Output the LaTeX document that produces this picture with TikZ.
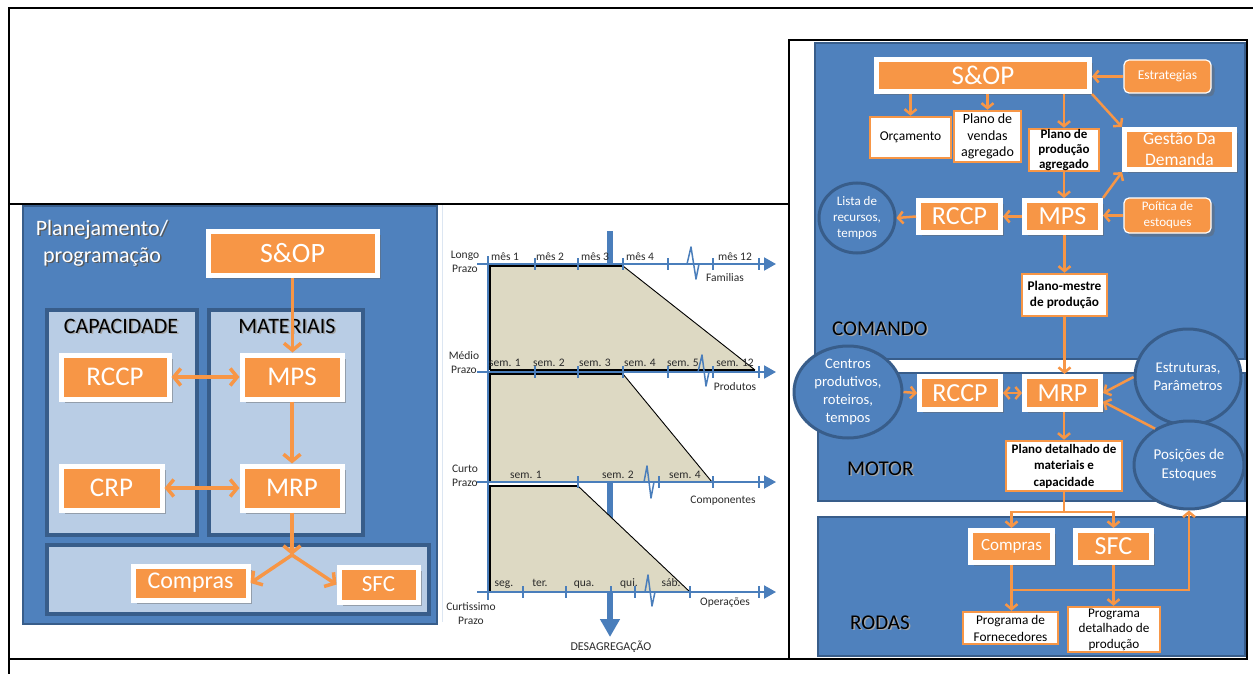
\documentclass[tikz,border=0pt]{standalone}
\usepackage{fontspec}
\setmainfont{Carlito}
\usetikzlibrary{arrows.meta,fit,shadows,shapes.geometric}
\definecolor{pblue}{HTML}{4F81BD}
\definecolor{pdark}{HTML}{385D8A}
\definecolor{plight}{HTML}{B9CDE5}
\definecolor{pfaint}{HTML}{DCE6F2}
\definecolor{porange}{HTML}{F79646}
\definecolor{ptan}{HTML}{DDD9C3}
\definecolor{paxis}{HTML}{4A7EBB}
\definecolor{pink}{HTML}{2B2B2B}
% text with a small offset shadow: options, shadow colour, name, position, text
\newcommand\shadowtext[5]{%
  \node[#1,text=#2,xshift=1.5pt,yshift=-1.5pt] at #4 {#5};
  \node[#1] (#3) at #4 {#5};}
\tikzset{
  fsz/.style 2 args={font=\fontsize{#1}{#2}\selectfont},
  fszb/.style 2 args={font=\fontsize{#1}{#2}\selectfont\bfseries},
  sz/.style 2 args={minimum width=#1pt,minimum height=#2pt},
  panel/.style={fill=pblue,draw=pdark,line width=2.5pt,inner sep=0pt},
  subpanel/.style={fill=plight,draw=pdark,line width=4pt,inner sep=0pt},
  softshadow/.style={drop shadow={shadow xshift=3.5pt,shadow yshift=-3.5pt,opacity=0.45,fill=black!60}},
  obox/.style={rectangle,fill=porange,draw=white,line width=5pt,text=white,inner sep=0pt,align=center,softshadow},
  wbox/.style={rectangle,fill=white,draw=porange,line width=2.5pt,text=black,inner sep=0pt,align=center},
  rbox/.style={rectangle,fill=porange,draw=white,line width=1.2pt,rounded corners=5pt,text=white,inner sep=0pt,align=center,softshadow},
  bubble/.style={ellipse,fill=pblue,draw=pdark,line width=3pt,inner sep=0pt},
  btext/.style={text=white,align=center,inner sep=0pt},
  bigarr/.style={draw=porange,line width=3.5pt,-{Straight Barb[length=7pt,width=17pt]}},
  bigboth/.style={draw=porange,line width=3.5pt,{Straight Barb[length=7pt,width=17pt]}-{Straight Barb[length=7pt,width=17pt]}},
  arr/.style={draw=porange,line width=2.5pt,-{Straight Barb[length=5pt,width=12pt]}},
  arrboth/.style={draw=porange,line width=2.5pt,{Straight Barb[length=5pt,width=12pt]}-{Straight Barb[length=5pt,width=12pt]}},
  oline/.style={draw=porange,line width=2.5pt},
  axis/.style={draw=paxis,line width=2pt},
  axisarrow/.style={axis,-{Triangle[length=12pt,width=13pt]}},
  zig/.style={draw=paxis,line width=1.5pt,line join=round},
  chartlbl/.style={text=pink,inner sep=0pt,fsz={11.5}{14},align=center},
}
\begin{document}
\begin{tikzpicture}[x=1pt,y=-1pt]
\useasboundingbox (0,0) rectangle (1253,674);
\fill[white] (0,0) rectangle (1253,674);

% ---------- table rules ----------
\draw[black,line width=1.5pt] (8,8) -- (1253,8);
\draw[black,line width=2pt] (8.5,8) -- (8.5,674);
\draw[black,line width=1.2pt] (8,204) -- (789,204);
\draw[black,line width=1.5pt] (8,659) -- (1247,659);
\draw[black,line width=1.2pt] (789,40) rectangle (1247,659);

% ---------- planning / scheduling panel ----------
\node[panel,fit={(23,206) (437,624)}] (plan) {};
\node[subpanel,fit={(47,310) (197,535)}] (cap) {};
\node[subpanel,fit={(209,310) (363,535)}] (mat) {};
\node[subpanel,fit={(47,545) (429,614)}] (exec) {};

\shadowtext{text=white,fsz={22}{27},align=center,inner sep=0pt}{black!65}{title}{(102,243)}{Planejamento/\\programação}
\shadowtext{anchor=base,fsz={22}{26},inner sep=0pt}{black!35}{capl}{(121,333)}{CAPACIDADE}
\shadowtext{anchor=base,fsz={22}{26},inner sep=0pt}{black!35}{matl}{(287,333)}{MATERIAIS}

\node[obox,sz={169}{44},fsz={28}{30}] (lsop) at (292.5,253) {S\&OP};
\node[obox,sz={108}{44},fsz={27}{30}] (lrccp) at (115,377) {RCCP};
\node[obox,sz={100}{44},fsz={27}{30}] (lmps) at (292,377) {MPS};
\node[obox,sz={101}{44},fsz={27}{30}] (lcrp) at (111.5,488) {CRP};
\node[obox,sz={100}{44},fsz={27}{30}] (lmrp) at (292,488) {MRP};
\node[obox,sz={115}{34},fsz={24}{26}] (lcompras) at (190.5,583) {Compras};
\node[obox,sz={79}{35},fsz={23}{26}] (lsfc) at (378.5,584.5) {SFC};
\coordinate (ljn) at (292,555);

\draw[bigarr] (lsop.south) -- (lsop.south |- lmps.north);
\draw[bigboth] (lrccp.east) -- (lmps.west);
\draw[bigarr] (lmps.south) -- (lmrp.north);
\draw[bigboth] (lcrp.east) -- (lmrp.west);
\draw[bigarr] (lmrp.south) -- (ljn);
\draw[bigarr] (ljn) -- (lcompras.east);
\draw[bigarr] (ljn) -- (lsfc.west);

% ---------- planning horizons chart ----------
\draw[pfaint,line width=1pt] (442,205) -- (442,622);
% disaggregation arrow, behind the bands
\draw[paxis,line width=6pt,-{Triangle[length=18pt,width=19pt]}] (610,231) -- (610,637);
\node[chartlbl,anchor=base,fsz={12}{14}] (desag) at (611,650) {DESAGREGAÇÃO};

% bands
\fill[ptan] (490,266) -- (623,266) -- (755,370) -- (490,370) -- cycle;
\draw[black,line width=1.8pt] (490,370) -- (490,266) -- (623,266);
\draw[black,line width=0.9pt] (623,266) -- (755,370);
\draw[black,line width=1.8pt] (490,370) -- (755,370);

\fill[ptan] (490,374) -- (623,374) -- (712,482) -- (490,482) -- cycle;
\draw[black,line width=1.8pt] (490,482) -- (490,374) -- (623,374);
\draw[black,line width=0.9pt] (623,374) -- (712,482);

\fill[ptan] (490,486) -- (578,486) -- (690,592) -- (490,592) -- cycle;
\draw[black,line width=1.8pt] (490,592) -- (490,486) -- (578,486);
\draw[black,line width=0.9pt] (578,486) -- (690,592);

% axes and ticks
\foreach \y in {264,372,482,592} \draw[axisarrow] (477,\y) -- (776,\y);
\draw[axis] (488,256) -- (488,600);
\foreach \x in {535,578,623,668,713,759} {
  \draw[axis] (\x,258) -- (\x,270);
  \draw[axis] (\x,366) -- (\x,378);
}
\foreach \x in {578,659,713,759} \draw[axis] (\x,476) -- (\x,488);
\foreach \x in {523,566,611,635,690,759} \draw[axis] (\x,586) -- (\x,598);
% scale breaks
\draw[zig] (687,264) -- (691,247) -- (696,279) -- (699,264);
\draw[zig] (698,372) -- (702,355) -- (706,386) -- (709,372);
\draw[zig] (644,482) -- (647,466) -- (651,498) -- (654,482);
\draw[zig] (645,592) -- (648,575) -- (652,606) -- (655,592);

% horizon labels
\node[chartlbl] (hlongo) at (465,262) {Longo\\Prazo};
\node[chartlbl] (hmedio) at (464,363) {Médio\\Prazo};
\node[chartlbl] (hcurto) at (465,476) {Curto\\Prazo};
\node[chartlbl] (hcurt) at (471,614) {Curtissimo\\Prazo};

% period labels
\foreach \t/\x [count=\i] in {mês 1/505,mês 2/550,mês 3/595,mês 4/640,mês 12/735}
  \node[chartlbl,anchor=base] (pm\i) at (\x,260) {\t};
\foreach \t/\x [count=\i] in {sem. 1/505,sem. 2/549,sem. 3/595,sem. 4/640,sem. 5/683,sem. 12/735}
  \node[chartlbl,anchor=base] (ps\i) at (\x,366) {\t};
\foreach \t/\x [count=\i] in {sem. 1/526,sem. 2/618,sem. 4/685}
  \node[chartlbl,anchor=base] (pc\i) at (\x,478) {\t};
\foreach \t/\x [count=\i] in {seg./504,ter./540,qua./584,qui./629,sáb./671}
  \node[chartlbl,anchor=base] (pd\i) at (\x,586) {\t};

% level labels
\node[chartlbl,anchor=base] (lfam) at (725,281) {Familias};
\node[chartlbl,anchor=base] (lprod) at (735,390) {Produtos};
\node[chartlbl,anchor=base] (lcomp) at (723,503) {Componentes};
\node[chartlbl,anchor=base] (lop) at (725,605) {Operações};

% ---------- command / engine / wheels panel ----------
\node[panel,fit={(815,43) (1245,359)}] (comando) {};
\node[panel,fit={(818,373) (1245,501)}] (motor) {};
\node[panel,fit={(818,517) (1245,656)}] (rodas) {};

\shadowtext{anchor=base west,fsz={21}{24},inner sep=0pt}{black!35}{lcomando}{(832,335)}{COMANDO}
\shadowtext{anchor=base west,fsz={21}{24},inner sep=0pt}{black!35}{lmotor}{(847,475)}{MOTOR}
\shadowtext{anchor=base west,fsz={21}{24},inner sep=0pt}{black!35}{lrodas}{(850,629)}{RODAS}

% command level
\node[obox,sz={213}{32},fsz={27}{30}] (rsop) at (983,75.5) {S\&OP};
\node[rbox,sz={87}{33},fsz={13.5}{16}] (estrat) at (1167.5,76.5) {Estrategias};
\node[wbox,sz={81}{41},fsz={13.5}{17}] (orc) at (910.5,137.5) {Orçamento};
\node[wbox,sz={67}{51},fsz={14}{16.5}] (pvendas) at (987.5,136.5) {Plano de\\vendas\\agregado};
\node[wbox,sz={70}{42},fszb={13}{15}] (pprod) at (1064,150) {Plano de\\produção\\agregado};
\node[obox,sz={110}{40},fsz={17.5}{21}] (gestao) at (1179.5,149.5) {Gestão Da\\Demanda};
\node[obox,sz={76}{32},fsz={26}{30}] (rmps) at (1062.5,216.5) {MPS};
\node[obox,sz={82}{32},fsz={26}{30}] (rrccp) at (959.5,216.5) {RCCP};
\node[rbox,sz={87}{35},fsz={13}{16}] (politica) at (1167.5,215.5) {Poítica de\\estoques};
\node[bubble,minimum width=76pt,minimum height=70pt] (lista) at (857,218) {};
\node[btext,fsz={13}{16}] (listat) at (lista) {Lista de\\recursos,\\tempos};
\node[wbox,sz={85}{42},fszb={13.3}{16}] (pmestre) at (1064.5,295) {Plano-mestre\\de produção};

% engine level
\node[bubble,minimum width=108pt,minimum height=92pt] (centros) at (848,392) {};
\node[btext,fsz={14.6}{18}] (centrost) at (centros) {Centros\\produtivos,\\roteiros,\\tempos};
\node[obox,sz={81}{33},fsz={26}{30}] (mrccp) at (960,393) {RCCP};
\node[obox,sz={76}{33},fsz={26}{30}] (mmrp) at (1062.5,393) {MRP};
\node[bubble,minimum width=106pt,minimum height=96pt] (estrut) at (1188,377) {};
\node[btext,fsz={14.8}{18}] (estrutt) at (estrut) {Estruturas,\\Parâmetros};
\node[bubble,minimum width=110pt,minimum height=88pt] (posic) at (1189,465) {};
\node[btext,fsz={15}{19}] (posict) at (posic) {Posições de\\Estoques};
\node[wbox,sz={116}{50},fszb={13}{16.5}] (pdet) at (1064,466) {Plano detalhado de\\materiais e\\capacidade};

% wheels level
\node[obox,sz={82}{32},fsz={17}{20}] (rcompras) at (1011.5,546.5) {Compras};
\node[obox,sz={76}{32},fsz={26}{30}] (rsfc) at (1113.5,546.5) {SFC};
\node[wbox,sz={95}{32},fsz={13.3}{17}] (pforn) at (1010.5,628) {Programa de\\Fornecedores};
\node[wbox,sz={92}{45},fsz={13.2}{15.5}] (pdetprod) at (1114,629.5) {Programa\\detalhado de\\produção};

\coordinate (rjn) at (1064,512);
\coordinate (fb) at (1011.5,590);

% connectors, command level
\draw[arr] (estrat.west) -- (estrat.west -| rsop.east);
\draw[arr] (orc.north |- rsop.south) -- (orc.north);
\draw[arr] (pvendas.north |- rsop.south) -- (pvendas.north);
\draw[arr] (pprod.north |- rsop.south) -- (pprod.north);
\draw[arr] (rsop.south east) -- (gestao.north west);
\draw[arr] (pprod.south) -- (pprod.south |- rmps.north);
\draw[arr] (rmps.north east) -- (gestao.south west);
\draw[arr] (rmps.west) -- (rrccp.east);
\draw[arr] (rrccp.west) -- (lista.east);
\draw[arr] (politica.west) -- (politica.west -| rmps.east);
\draw[arr] (rmps.south -| pmestre.north) -- (pmestre.north);
\draw[arr] (pmestre.south) -- (pmestre.south |- mmrp.north);

% connectors, engine level
\draw[arr] (centros.east) -- (mrccp.west);
\draw[arrboth] (mrccp.east) -- (mmrp.west);
\draw[arr] (estrut.west) -- (mmrp.east);
\draw[arr] (posic.133) -- (mmrp.-12);
\draw[arr] (mmrp.south -| pdet.north) -- (pdet.north);

% connectors, wheels level
\draw[oline] (pdet.south) -- (rjn);
\draw[arr] (rjn) -| (rcompras.north);
\draw[arr] (rjn) -| (rsfc.north);
\draw[arr] (rcompras.south) -- (rcompras.south |- pforn.north);
\draw[arr] (rsfc.south) -- (rsfc.south |- pdetprod.north);
\draw[arr] (fb) -| (posic.south);
\end{tikzpicture}
\end{document}
